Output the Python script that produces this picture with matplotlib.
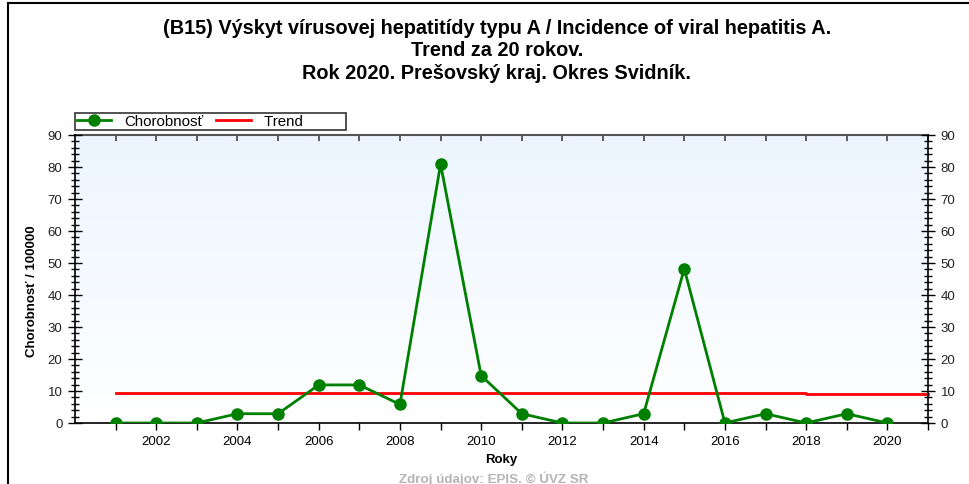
import matplotlib
matplotlib.use("Agg")
import matplotlib.pyplot as plt
import numpy as np
from matplotlib.ticker import MultipleLocator, FixedLocator, NullFormatter
from matplotlib.lines import Line2D
from matplotlib.colors import LinearSegmentedColormap

plt.rcParams['font.family'] = ['Liberation Sans', 'DejaVu Sans']

years = [2001, 2002, 2003, 2004, 2005, 2006, 2007, 2008, 2009, 2010,
         2011, 2012, 2013, 2014, 2015, 2016, 2017, 2018, 2019, 2020]
incidence = [0, 0, 0, 2.9, 2.9, 11.9, 11.9, 5.8, 80.9, 14.8,
             2.9, 0, 0, 2.9, 48.2, 0, 2.9, 0, 2.9, 0]
trend_years = [2001, 2018, 2018, 2021]
trend_values = [9.5, 9.5, 9.2, 9.2]
x_labels = [2002, 2004, 2006, 2008, 2010, 2012, 2014, 2016, 2018, 2020]

title = ("(B15) Výskyt vírusovej hepatitídy typu A / Incidence of viral hepatitis A.\n"
         "Trend za 20 rokov.\n"
         "Rok 2020. Prešovský kraj. Okres Svidník.")

fig = plt.figure(figsize=(9.7, 4.85), dpi=100)
ax = fig.add_axes([75/970, 61/485, 853/970, 288/485])

# gradient background: white at bottom, light blue at top
grad = np.linspace(0, 1, 256).reshape(-1, 1)
cmap = LinearSegmentedColormap.from_list('bg', ['#ffffff', '#ecf5ff'])
ax.imshow(grad, extent=[2000, 2021, 0, 90], aspect='auto', cmap=cmap,
          origin='lower', zorder=0)

green = '#008000'
ax.plot(trend_years, trend_values, color='#ff0000', lw=2, zorder=2, clip_on=False)
ax.plot(years, incidence, color=green, lw=2, marker='o', ms=8, zorder=3)

ax.set_xlim(2000, 2021)
ax.set_ylim(0, 90)

ax.xaxis.set_major_locator(FixedLocator(x_labels))
ax.xaxis.set_minor_locator(FixedLocator([y for y in range(2001, 2022) if y not in x_labels]))
ax.yaxis.set_major_locator(MultipleLocator(10))
ax.yaxis.set_minor_locator(MultipleLocator(2))

ax.tick_params(axis='x', which='both', direction='out', length=5, width=1,
               top=False, labelsize=9.5, pad=4, colors='black')
ax.tick_params(axis='y', which='major', direction='inout', length=10, width=1,
               left=True, right=True, labelright=True, labelsize=9.5, pad=4)
ax.tick_params(axis='y', which='minor', direction='inout', length=6, width=1,
               left=True, right=True)
for lab in ax.get_yticklabels():
    lab.set_color('#222222')

# top ticks pointing inside
secx = ax.secondary_xaxis('top')
secx.xaxis.set_major_locator(FixedLocator(list(range(2001, 2022))))
secx.xaxis.set_major_formatter(NullFormatter())
secx.tick_params(axis='x', direction='in', length=4, width=1.2, colors='#444444')
secx.spines['top'].set_color('#555555')
secx.spines['top'].set_linewidth(1.5)

for s in ['left', 'bottom', 'right']:
    ax.spines[s].set_color('black')
    ax.spines[s].set_linewidth(1.2)
ax.spines['top'].set_visible(False)

ax.set_xlabel('Roky', fontsize=9.5, fontweight='bold', labelpad=4)
ax.set_ylabel('Chorobnosť / 100000', fontsize=9.5, fontweight='bold')
ax.yaxis.set_label_coords(-0.0434, 0.46)

fig.text(497/970, 1 - 19/485, title, ha='center', va='top', fontsize=14.3,
         fontweight='bold', linespacing=1.22)

# legend
leg_handles = [Line2D([], [], color=green, lw=2, marker='o', ms=8),
               Line2D([], [], color='#ff0000', lw=2)]
leg = fig.legend(leg_handles, ['Chorobnosť', 'Trend          '], loc='lower left',
                 bbox_to_anchor=(75/970, 1 - 131/485), ncol=2, frameon=True,
                 fancybox=False, edgecolor='black', fontsize=10.8,
                 borderpad=0.1, borderaxespad=0, handlelength=2.3,
                 columnspacing=0.85, handletextpad=0.9)
leg.get_frame().set_linewidth(1.2)

fig.text(494/970, 1 - 479/485, 'Zdroj údajov: EPIS. © ÚVZ SR', ha='center',
         va='center', fontsize=9.6, color='#b4b4b4', fontweight='bold')

# outer frame lines
fig.add_artist(Line2D([8/970, 8/970], [0, 1 - 4/485], color='black', lw=1.5))
fig.add_artist(Line2D([8/970, 1], [1 - 4/485, 1 - 4/485], color='black', lw=1.5))

fig.savefig('out.png', dpi=100)
